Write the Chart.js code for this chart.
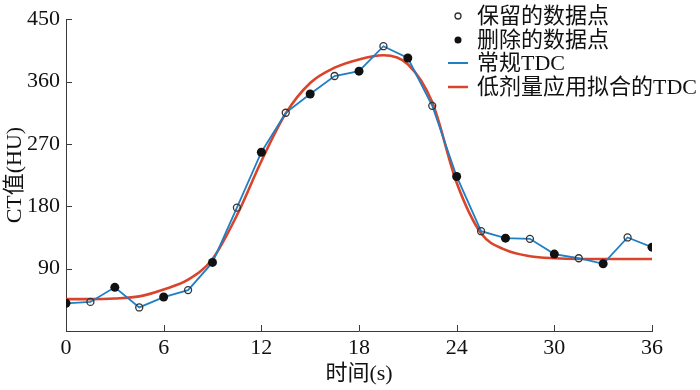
<!DOCTYPE html>
<html>
<head>
<meta charset="utf-8">
<script src="https://cdn.jsdelivr.net/npm/chart.js@4"></script>
<style>
  html, body { margin: 0; padding: 0; background: #ffffff; }
  #wrap { width: 700px; height: 390px; }
</style>
</head>
<body>
<div id="wrap"><canvas id="chart-tdc" width="700" height="390"></canvas></div>
<script>
// sample times (s) and conventional TDC values (HU)
const tempos = [0, 1.5, 3, 4.5, 6, 7.5, 9, 10.5, 12, 13.5, 15, 16.5, 18, 19.5, 21, 22.5, 24, 25.5, 27, 28.5, 30, 31.5, 33, 34.5, 36];
const tdcConvencional = [40, 42, 63, 34, 49, 59, 99, 178, 258, 315, 342, 368, 375, 411, 394, 325, 223, 144, 134, 133, 111, 105, 97, 135, 121];

// low-dose fitted TDC
const temposAjuste = [0, 1.5, 3, 4.5, 6, 7.5, 9, 10.5, 12, 13.5, 15, 16.5, 18, 19.5, 21, 22.5, 24, 25.5, 27, 28.5, 30, 31.5, 33, 34.5, 36];
const tdcAjuste = [46, 46, 47, 50, 60, 74, 104, 167, 245, 314, 358, 380, 392, 398, 385, 330, 214, 141, 117, 108, 105, 104, 104, 104, 104];

const xTicks = [0, 6, 12, 18, 24, 30, 36];
const yTicks = [90, 180, 270, 360, 450];

const legendaTextos = ["保留的数据点", "删除的数据点", "常规TDC", "低剂量应用拟合的TDC"];

const corAzul = "#1f7fc4";
const corVermelha = "#d9442b";
const corEixo = "#3a3a3a";
const fonte = '"Liberation Serif", "Noto Sans CJK SC", serif';

function pontos(xs, ys) {
  return xs.map((x, i) => ({ x: x, y: ys[i] }));
}

const todos = pontos(tempos, tdcConvencional);
// even-index samples were deleted, odd-index ones were kept
const mantidos = todos.filter((p, i) => i % 2 === 1);
const removidos = todos.filter((p, i) => i % 2 === 0);

const pluginEixos = {
  id: "ticksInternos",
  afterDraw(chart) {
    const ctx = chart.ctx;
    const xs = chart.scales.x;
    const ys = chart.scales.y;
    const area = chart.chartArea;
    ctx.save();
    ctx.strokeStyle = corEixo;
    ctx.lineWidth = 1;
    ctx.beginPath();
    xTicks.forEach(v => {
      if (v === 0) return;
      const px = Math.round(xs.getPixelForValue(v)) + 0.5;
      ctx.moveTo(px, area.bottom);
      ctx.lineTo(px, area.bottom - 6);
    });
    yTicks.forEach(v => {
      const py = Math.round(ys.getPixelForValue(v)) + 0.5;
      ctx.moveTo(area.left, py);
      ctx.lineTo(area.left + 6, py);
    });
    ctx.stroke();

    // legend in the upper right corner
    const lx = 458;
    const tx = 477;
    const linhas = [16, 40, 63, 87];
    ctx.font = "22px " + fonte;
    ctx.fillStyle = "#111111";
    ctx.textBaseline = "middle";
    ctx.textAlign = "left";
    legendaTextos.forEach((t, i) => ctx.fillText(t, tx, linhas[i] + 1));

    ctx.lineWidth = 1.3;
    ctx.strokeStyle = "#333333";
    ctx.beginPath();
    ctx.arc(lx, linhas[0], 3, 0, Math.PI * 2);
    ctx.stroke();
    ctx.fillStyle = "#111111";
    ctx.beginPath();
    ctx.arc(lx, linhas[1], 3.5, 0, Math.PI * 2);
    ctx.fill();

    ctx.lineWidth = 2;
    ctx.strokeStyle = corAzul;
    ctx.beginPath();
    ctx.moveTo(448, linhas[2]);
    ctx.lineTo(468, linhas[2]);
    ctx.stroke();
    ctx.lineWidth = 2.5;
    ctx.strokeStyle = corVermelha;
    ctx.beginPath();
    ctx.moveTo(448, linhas[3]);
    ctx.lineTo(468, linhas[3]);
    ctx.stroke();
    ctx.restore();
  }
};

const ctxTdc = document.getElementById("chart-tdc");

const chartTdc = new Chart(ctxTdc, {
  type: "scatter",
  data: {
    datasets: [
      {
        label: "保留的数据点",
        data: mantidos,
        pointStyle: "circle",
        pointRadius: 3.5,
        pointBorderWidth: 1.3,
        pointBackgroundColor: "rgba(255,255,255,0)",
        pointBorderColor: "#333333",
        showLine: false,
        order: 1
      },
      {
        label: "删除的数据点",
        data: removidos,
        pointStyle: "circle",
        pointRadius: 4.5,
        pointBorderWidth: 0,
        pointBackgroundColor: "#111111",
        pointBorderColor: "#111111",
        showLine: false,
        order: 0
      },
      {
        label: "常规TDC",
        data: todos,
        showLine: true,
        borderColor: corAzul,
        borderWidth: 1.8,
        pointRadius: 0,
        tension: 0,
        order: 2
      },
      {
        label: "低剂量应用拟合的TDC",
        data: pontos(temposAjuste, tdcAjuste),
        showLine: true,
        borderColor: corVermelha,
        borderWidth: 2.6,
        pointRadius: 0,
        cubicInterpolationMode: "monotone",
        order: 3
      }
    ]
  },
  options: {
    responsive: false,
    animation: false,
    events: [],
    layout: {
      autoPadding: false,
      padding: { left: 0, right: 48, top: 14, bottom: 0 }
    },
    plugins: {
      legend: { display: false },
      tooltip: { enabled: false }
    },
    scales: {
      x: {
        type: "linear",
        min: 0,
        max: 36,
        afterFit(scale) { scale.height = 59; },
        afterBuildTicks(scale) { scale.ticks = xTicks.map(v => ({ value: v })); },
        grid: { display: false, drawTicks: false },
        border: { display: true, color: corEixo, width: 1 },
        ticks: {
          color: "#111111",
          padding: 4,
          maxRotation: 0,
          font: { family: fonte, size: 22 }
        },
        title: {
          display: true,
          text: "时间(s)",
          color: "#111111",
          padding: { top: 0, bottom: 3 },
          font: { family: fonte, size: 22 }
        }
      },
      y: {
        type: "linear",
        min: 0,
        max: 450,
        afterFit(scale) { scale.width = 66; },
        afterBuildTicks(scale) { scale.ticks = [0].concat(yTicks).map(v => ({ value: v })); },
        grid: { display: false, drawTicks: false },
        border: { display: true, color: corEixo, width: 1 },
        ticks: {
          color: "#111111",
          padding: 6,
          font: { family: fonte, size: 22 },
          callback: v => (v === 0 ? "" : v)
        },
        title: {
          display: true,
          text: "CT值(HU)",
          color: "#111111",
          padding: { top: 2, bottom: 0 },
          font: { family: fonte, size: 22 }
        }
      }
    }
  },
  plugins: [pluginEixos]
});
</script>
</body>
</html>
